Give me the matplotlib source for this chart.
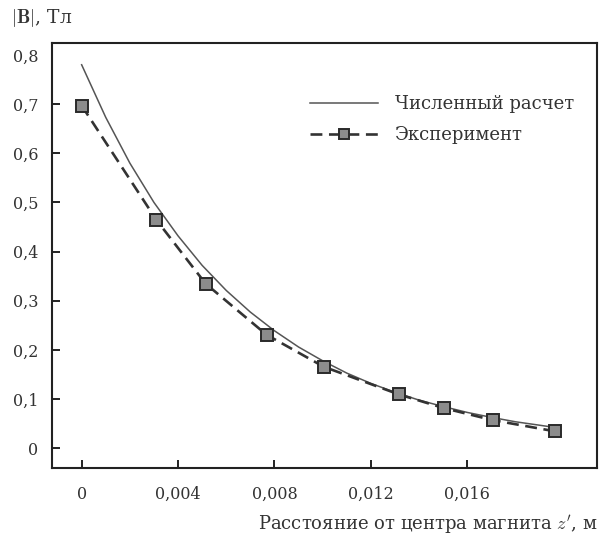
import matplotlib
matplotlib.use('Agg')
import matplotlib.pyplot as plt
from matplotlib.ticker import FuncFormatter

plt.rcParams['font.family'] = ['DejaVu Serif']
plt.rcParams['mathtext.fontset'] = 'cm'

# Numerical calculation
calc_x = [0.0, 0.001, 0.002, 0.003, 0.004, 0.005, 0.006, 0.007, 0.008, 0.009,
          0.010, 0.011, 0.012, 0.013, 0.014, 0.015, 0.016, 0.017, 0.018, 0.019, 0.0197]
calc_y = [0.780, 0.673, 0.580, 0.500, 0.432, 0.372, 0.321, 0.277, 0.239, 0.206,
          0.178, 0.153, 0.132, 0.114, 0.098, 0.085, 0.073, 0.063, 0.054, 0.047, 0.042]

# Experiment
exp_x = [0.0, 0.0031, 0.00514, 0.00767, 0.01004, 0.01317, 0.01503, 0.01705, 0.01965]
exp_y = [0.697, 0.4645, 0.335, 0.231, 0.166, 0.1095, 0.0818, 0.0574, 0.0345]

x_ticks = [0, 0.004, 0.008, 0.012, 0.016]
y_ticks = [0, 0.1, 0.2, 0.3, 0.4, 0.5, 0.6, 0.7, 0.8]

fig = plt.figure(figsize=(5.99, 5.39), dpi=100)
ax = fig.add_axes([0.0868, 0.1317, 0.9099, 0.7883])

ax.plot(calc_x, calc_y, color='#555555', linewidth=1.1, label='Численный расчет')
ax.plot(exp_x, exp_y, color='#333333', linewidth=1.9, linestyle=(0, (4.5, 2.5)),
        marker='s', markersize=9, markerfacecolor='#8c8c8c',
        markeredgecolor='#2a2a2a', markeredgewidth=1.4, label='Эксперимент')

ax.set_xlim(-0.00123, 0.02138)
ax.set_ylim(-0.040, 0.824)
ax.set_xticks(x_ticks)
ax.set_yticks(y_ticks)

def comma_fmt(v, pos):
    if abs(v) < 1e-12:
        return '0'
    s = ('%.3f' % v) if abs(v) < 0.1 else ('%.1f' % v)
    return s.replace('.', ',')

ax.xaxis.set_major_formatter(FuncFormatter(comma_fmt))
ax.yaxis.set_major_formatter(FuncFormatter(comma_fmt))
ax.tick_params(direction='in', length=6, width=1.4, labelsize=11.5,
               labelcolor='#333333', color='#222222', pad=10)
ax.tick_params(axis='x', pad=13)
ax.yaxis.get_major_ticks()[-1].tick1line.set_visible(False)

for side in ax.spines.values():
    side.set_linewidth(1.5)
    side.set_color('#222222')

fig.text(0.018, 0.967, r'$|\mathbf{B}|$, Тл', fontsize=13.5, color='#333333',
         ha='left', va='center')
fig.text(0.997, 0.026, "Расстояние от центра магнита $z'$, м", fontsize=13,
         color='#333333', ha='right', va='center')

ax.legend(loc='upper left', bbox_to_anchor=(0.473, 0.878), frameon=False,
          fontsize=13, handlelength=3.8, labelspacing=0.72, handletextpad=0.9,
          borderpad=0, borderaxespad=0, markerscale=0.8, labelcolor='#333333')

fig.savefig('out.png', dpi=100)
